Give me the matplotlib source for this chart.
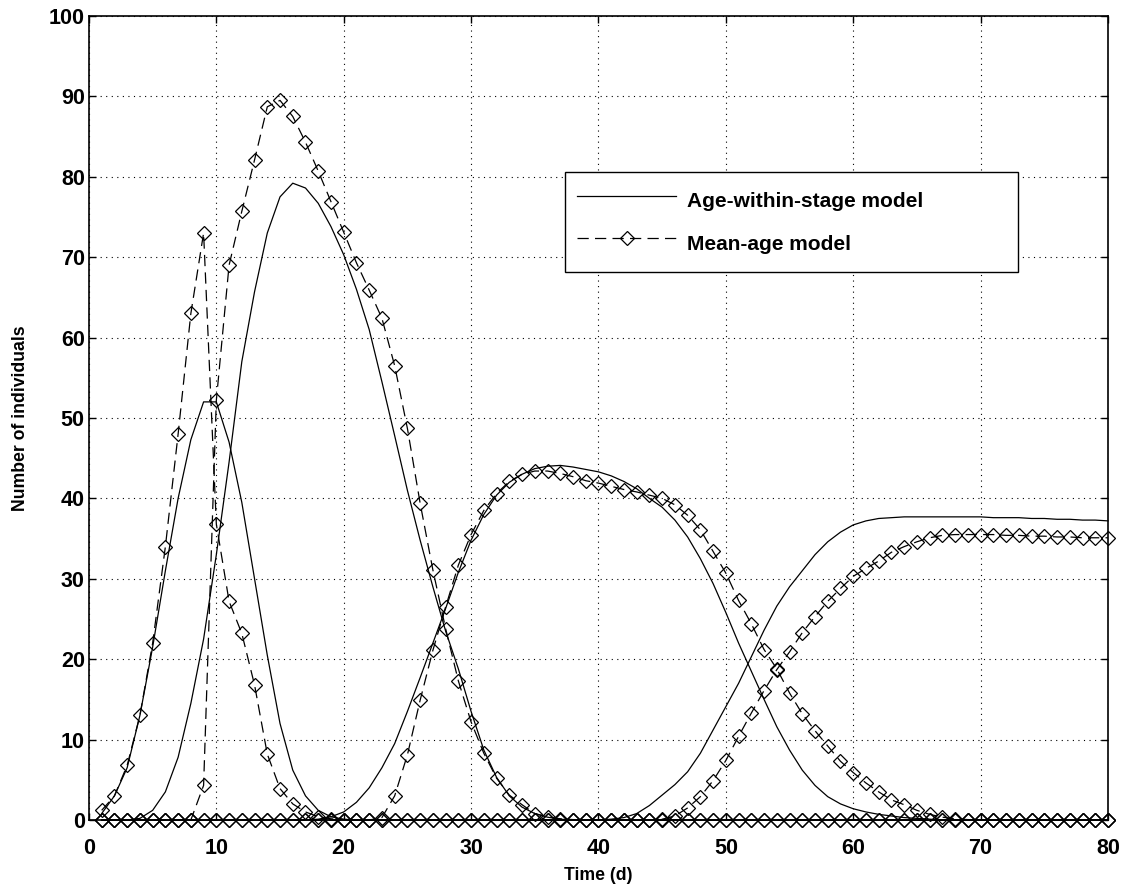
import numpy as np
import matplotlib
matplotlib.use('Agg')
from matplotlib import pyplot as plt

plt.rcParams['font.family'] = ['Liberation Sans', 'DejaVu Sans']
plt.rcParams['font.weight'] = 'bold'

# days 1..80
days = np.arange(1, 81)

# age-within-stage model (solid lines), one list per stage
aws_stage1 = [0.8, 3.0, 6.5, 13.0, 21.5, 31.0, 40.0, 47.3, 52.0, 52.0,
              47.0, 39.5, 30.0, 20.5, 12.0, 6.2, 3.0, 1.2, 0.4, 0.1,
              0, 0, 0, 0, 0, 0, 0, 0, 0, 0,
              0, 0, 0, 0, 0, 0, 0, 0, 0, 0,
              0, 0, 0, 0, 0, 0, 0, 0, 0, 0,
              0, 0, 0, 0, 0, 0, 0, 0, 0, 0,
              0, 0, 0, 0, 0, 0, 0, 0, 0, 0,
              0, 0, 0, 0, 0, 0, 0, 0, 0, 0]
aws_stage2 = [0, 0, 0, 0.2, 1.2, 3.5, 7.8, 14.5, 22.5, 33.0,
              44.5, 57.0, 65.7, 73.0, 77.5, 79.2, 78.6, 76.7, 73.8, 70.3,
              66.0, 61.0, 54.5, 47.8, 41.0, 34.8, 29.0, 23.5, 18.8, 13.5,
              8.7, 5.3, 3.0, 1.6, 0.8, 0.35, 0.1, 0, 0, 0,
              0, 0, 0, 0, 0, 0, 0, 0, 0, 0,
              0, 0, 0, 0, 0, 0, 0, 0, 0, 0,
              0, 0, 0, 0, 0, 0, 0, 0, 0, 0,
              0, 0, 0, 0, 0, 0, 0, 0, 0, 0]
aws_stage3 = [0, 0, 0, 0, 0, 0, 0, 0, 0, 0,
              0, 0, 0, 0, 0, 0, 0, 0.1, 0.4, 1.0,
              2.2, 4.0, 6.5, 9.5, 13.5, 17.7, 22.0, 26.3, 30.8, 34.8,
              38.0, 40.4, 42.0, 43.0, 43.7, 44.0, 44.1, 43.9, 43.6, 43.3,
              42.8, 42.1, 41.2, 40.0, 38.9, 37.3, 35.2, 32.5, 29.4, 25.8,
              22.0, 18.5, 15.0, 11.6, 8.7, 6.2, 4.3, 2.9, 2.0, 1.4,
              1.0, 0.7, 0.5, 0.3, 0.2, 0.1, 0, 0, 0, 0,
              0, 0, 0, 0, 0, 0, 0, 0, 0, 0]
aws_stage4 = [0, 0, 0, 0, 0, 0, 0, 0, 0, 0,
              0, 0, 0, 0, 0, 0, 0, 0, 0, 0,
              0, 0, 0, 0, 0, 0, 0, 0, 0, 0,
              0, 0, 0, 0, 0, 0, 0, 0, 0, 0,
              0.1, 0.3, 0.8, 1.8, 3.1, 4.4, 6.0, 8.3, 11.2, 14.1,
              17.0, 20.3, 23.6, 26.6, 29.0, 31.0, 33.0, 34.6, 35.8, 36.7,
              37.2, 37.5, 37.6, 37.7, 37.7, 37.7, 37.7, 37.7, 37.7, 37.7,
              37.6, 37.6, 37.6, 37.5, 37.5, 37.4, 37.4, 37.3, 37.3, 37.2]

# mean-age model (dashed lines with diamonds)
ma_stage1 = [1.2, 3.0, 6.8, 13.0, 22.0, 34.0, 48.0, 63.0, 73.0, 36.8,
             27.2, 23.2, 16.8, 8.2, 3.9, 2.0, 1.0, 0.4, 0.15, 0.05,
             0, 0, 0, 0, 0, 0, 0, 0, 0, 0,
             0, 0, 0, 0, 0, 0, 0, 0, 0, 0,
             0, 0, 0, 0, 0, 0, 0, 0, 0, 0,
             0, 0, 0, 0, 0, 0, 0, 0, 0, 0,
             0, 0, 0, 0, 0, 0, 0, 0, 0, 0,
             0, 0, 0, 0, 0, 0, 0, 0, 0, 0]
ma_stage2 = [0, 0, 0, 0, 0, 0, 0, 0, 4.3, 52.2,
             69.0, 75.7, 82.1, 88.7, 89.5, 87.5, 84.3, 80.7, 76.9, 73.1,
             69.3, 65.9, 62.4, 56.5, 48.7, 39.4, 31.1, 23.8, 17.3, 12.2,
             8.3, 5.2, 3.1, 1.9, 0.8, 0.4, 0.15, 0.05, 0, 0,
             0, 0, 0, 0, 0, 0, 0, 0, 0, 0,
             0, 0, 0, 0, 0, 0, 0, 0, 0, 0,
             0, 0, 0, 0, 0, 0, 0, 0, 0, 0,
             0, 0, 0, 0, 0, 0, 0, 0, 0, 0]
ma_stage3 = [0, 0, 0, 0, 0, 0, 0, 0, 0, 0,
             0, 0, 0, 0, 0, 0, 0, 0, 0, 0,
             0, 0, 0.3, 3.0, 8.1, 14.9, 21.1, 26.5, 31.7, 35.5,
             38.5, 40.6, 42.1, 43.0, 43.4, 43.4, 43.1, 42.7, 42.2, 41.9,
             41.5, 41.1, 40.8, 40.4, 40.0, 39.2, 37.9, 36.1, 33.4, 30.7,
             27.3, 24.4, 21.2, 18.8, 15.8, 13.2, 11.1, 9.2, 7.3, 5.9,
             4.6, 3.5, 2.5, 1.9, 1.2, 0.7, 0.35, 0.15, 0.05, 0,
             0, 0, 0, 0, 0, 0, 0, 0, 0, 0]
ma_stage4 = [0, 0, 0, 0, 0, 0, 0, 0, 0, 0,
             0, 0, 0, 0, 0, 0, 0, 0, 0, 0,
             0, 0, 0, 0, 0, 0, 0, 0, 0, 0,
             0, 0, 0, 0, 0, 0, 0, 0, 0, 0,
             0, 0, 0, 0, 0.1, 0.5, 1.5, 2.9, 4.9, 7.4,
             10.4, 13.3, 16.1, 18.7, 20.9, 23.3, 25.3, 27.2, 28.8, 30.3,
             31.3, 32.2, 33.3, 34.0, 34.6, 35.1, 35.4, 35.5, 35.5, 35.5,
             35.5, 35.4, 35.4, 35.3, 35.3, 35.2, 35.2, 35.1, 35.1, 35.1]

aws_all = [aws_stage1, aws_stage2, aws_stage3, aws_stage4]
ma_all = [ma_stage1, ma_stage2, ma_stage3, ma_stage4]

fig = plt.figure(figsize=(11.26, 8.86), dpi=100)
ax = fig.add_axes([0.079, 0.0745, 0.905, 0.9075])

for i, s in enumerate(aws_all):
    ax.plot(days, s, color='black', lw=0.9, clip_on=False,
            label='Age-within-stage model' if i == 0 else None)
for i, s in enumerate(ma_all):
    ax.plot(days, s, color='black', lw=0.9, dashes=(9, 5), clip_on=False,
            marker='D', ms=7, mfc='none', mec='black', mew=0.9,
            label='Mean-age model' if i == 0 else None)

ax.set_xlim(0, 80)
ax.set_ylim(0, 100)
ax.set_xticks(np.arange(0, 81, 10))
ax.set_yticks(np.arange(0, 101, 10))
ax.grid(True, linestyle=(0, (1, 4)), color='black', lw=0.8)
ax.tick_params(direction='in', top=True, right=True, length=5, width=1,
               labelsize=15.5, pad=3)
ax.tick_params(axis='x', pad=13)
for lab in ax.get_xticklabels() + ax.get_yticklabels():
    lab.set_fontweight('bold')
for sp in ax.spines.values():
    sp.set_linewidth(1.2)

ax.set_xlabel('Time (d)', fontsize=12.7, fontweight='bold', labelpad=6)
ax.set_ylabel('Number of individuals', fontsize=12.7, fontweight='bold', labelpad=14)

leg = ax.legend(loc='upper left', bbox_to_anchor=(0.467, 0.683, 0.445, 0.123),
                mode='expand', borderaxespad=0, fancybox=False, framealpha=1,
                edgecolor='black', handlelength=4.75, handleheight=2.0,
                handletextpad=0.5, labelspacing=0.5, borderpad=0.6,
                prop={'size': 15, 'weight': 'bold'})
leg.get_frame().set_linewidth(1.0)

plt.savefig('out.png', dpi=100)
